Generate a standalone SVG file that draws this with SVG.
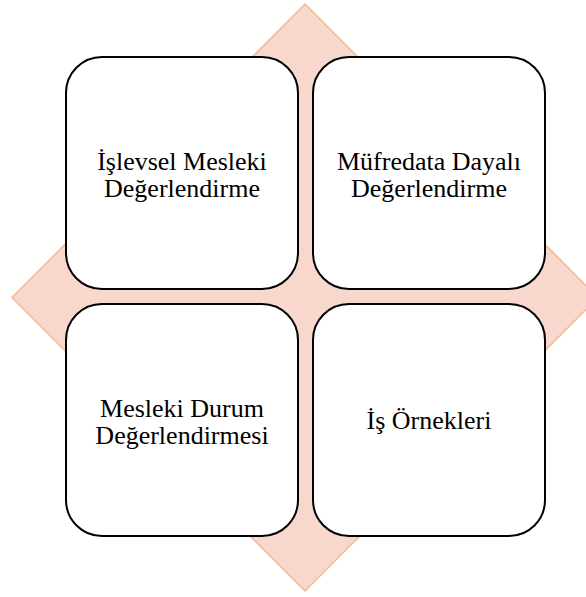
<svg xmlns="http://www.w3.org/2000/svg" width="586" height="597" viewBox="0 0 586 597">
<style>
.box{fill:#ffffff;stroke:#000000;stroke-width:2}
.lbl{font-family:"Liberation Serif","Times New Roman",serif;font-size:26px;fill:#000000;text-anchor:middle}
</style>
<rect width="586" height="597" fill="#ffffff"/>
<g id="background">
<polygon points="305,4 598,297.5 305,591 12,297.5" fill="#F8D7CC" stroke="#F4B990" stroke-width="1.5"/>
</g>
<g id="connectors"></g>
<g id="node1">
<rect class="box" x="66" y="57" width="232" height="232" rx="36" ry="36"/>
<text class="lbl" x="182" y="170">İşlevsel Mesleki</text>
<text class="lbl" x="182" y="197">Değerlendirme</text>
</g>
<g id="node2">
<rect class="box" x="313" y="57" width="232" height="232" rx="36" ry="36"/>
<text class="lbl" x="429" y="170">Müfredata Dayalı</text>
<text class="lbl" x="429" y="197">Değerlendirme</text>
</g>
<g id="node3">
<rect class="box" x="66" y="304" width="232" height="232" rx="36" ry="36"/>
<text class="lbl" x="182" y="417">Mesleki Durum</text>
<text class="lbl" x="182" y="444">Değerlendirmesi</text>
</g>
<g id="node4">
<rect class="box" x="313" y="304" width="232" height="232" rx="36" ry="36"/>
<text class="lbl" x="429" y="429">İş Örnekleri</text>
</g>
</svg>
